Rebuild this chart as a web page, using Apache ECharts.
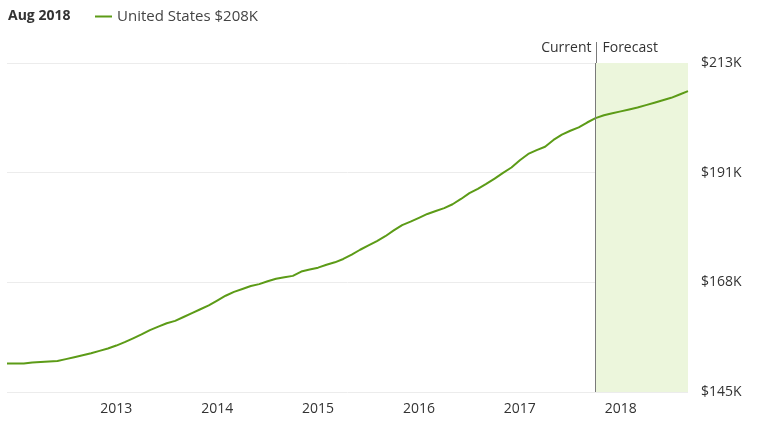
<!DOCTYPE html>
<html>
<head>
<meta charset="utf-8">
<script src="https://cdn.jsdelivr.net/npm/echarts@6/dist/echarts.min.js"></script>
<style>
  html, body { margin: 0; padding: 0; background: #fff; }
  #chart { width: 768px; height: 432px; }
</style>
</head>
<body>
<div id="chart"></div>
<script>
// months Dec 2011 .. Sep 2018
const months = [];
for (let y = 2011, m = 12; y < 2018 || (y === 2018 && m <= 9); ) {
  months.push(y + "-" + String(m).padStart(2, "0"));
  m++;
  if (m > 12) { m = 1; y++; }
}

// home value, $K
const homeValues = [
  150.9, 150.9, 150.9, 151.1, 151.2, 151.3, 151.4, 151.8, 152.2, 152.6,
  153.0, 153.5, 154.0, 154.6, 155.3, 156.1, 156.9, 157.8, 158.5, 159.2,
  159.7, 160.5, 161.3, 162.1, 162.9, 163.9, 164.9, 165.7, 166.3, 166.9,
  167.3, 167.9, 168.4, 168.7, 169.0, 169.9, 170.3, 170.7, 171.3, 171.8,
  172.5, 173.4, 174.4, 175.3, 176.2, 177.2, 178.4, 179.5, 180.2, 181.0,
  181.8, 182.4, 183.0, 183.8, 184.9, 186.1, 187.0, 188.0, 189.1, 190.3,
  191.4, 192.9, 194.2, 195.0, 195.7, 197.1, 198.2, 199.0, 199.7, 200.7,
  201.6, 202.2, 202.6, 203.0, 203.4, 203.8, 204.3, 204.8, 205.3, 205.8,
  206.5, 207.2,
];

const yearLabels = ["2013", "2014", "2015", "2016", "2017", "2018"];
const currentMonth = "2017-10";
const forecastEnd = "2018-09";
const yMin = 145;
const yMax = 213;

const FONT = "'Open Sans', sans-serif";
const GREEN = "#5c9b17";

const chart = echarts.init(document.getElementById("chart"));

const option = {
  animation: false,
  textStyle: { fontFamily: FONT },
  title: {
    text: "Aug 2018",
    left: 3,
    top: 4,
    textStyle: { fontSize: 14, fontWeight: "bold", color: "#333", fontFamily: FONT },
  },
  legend: {
    left: 90,
    top: 4,
    icon: "rect",
    itemWidth: 17,
    itemHeight: 2,
    itemGap: 6,
    textStyle: { fontSize: 15, color: "#444", fontFamily: FONT },
    data: ["United States $208K"],
  },
  grid: { left: 7, right: 80, top: 63, bottom: 40 },
  xAxis: {
    type: "category",
    data: months,
    boundaryGap: false,
    axisLine: { show: false },
    axisTick: { show: false },
    splitLine: { show: false },
    axisLabel: {
      interval: (idx, val) => val.endsWith("-01") && yearLabels.includes(val.slice(0, 4)),
      formatter: (val) => val.slice(0, 4),
      margin: 10,
      fontSize: 14,
      color: "#333",
      fontFamily: FONT,
    },
  },
  yAxis: {
    type: "value",
    position: "right",
    min: yMin,
    max: yMax,
    interval: (yMax - yMin) / 3,
    axisLine: { show: false },
    axisTick: { show: false },
    axisLabel: {
      // the source rounds tick values up
      formatter: (v) => "$" + Math.ceil(v - 1e-6) + "K",
      margin: 13,
      fontSize: 14,
      color: "#333",
      fontFamily: FONT,
    },
    splitLine: { lineStyle: { color: "#ececec", width: 1 } },
  },
  series: [
    {
      name: "United States $208K",
      type: "line",
      data: homeValues,
      showSymbol: false,
      symbol: "none",
      color: GREEN,
      lineStyle: { width: 2, color: GREEN },
      markArea: {
        silent: true,
        itemStyle: { color: "#ecf6dc" },
        data: [[{ xAxis: currentMonth }, { xAxis: forecastEnd }]],
      },
      markLine: {
        silent: true,
        symbol: "none",
        label: { show: false },
        lineStyle: { color: "#7a7a7a", width: 1, type: "solid" },
        data: [{ xAxis: currentMonth }],
      },
    },
  ],
};

chart.setOption(option);

// current / forecast divider above the plot area
const cx = Math.round(chart.convertToPixel({ xAxisIndex: 0 }, currentMonth)) + 0.5;
const topY = chart.convertToPixel({ yAxisIndex: 0 }, yMax);
chart.setOption({
  graphic: [
    {
      type: "line",
      shape: { x1: cx, y1: 42, x2: cx, y2: topY },
      style: { stroke: "#7a7a7a", lineWidth: 1 },
    },
    {
      type: "text",
      x: cx - 5,
      y: 48,
      style: { text: "Current", fill: "#333", font: "14px " + FONT, align: "right", verticalAlign: "middle" },
    },
    {
      type: "text",
      x: cx + 6,
      y: 48,
      style: { text: "Forecast", fill: "#333", font: "14px " + FONT, align: "left", verticalAlign: "middle" },
    },
  ],
});
</script>
</body>
</html>
